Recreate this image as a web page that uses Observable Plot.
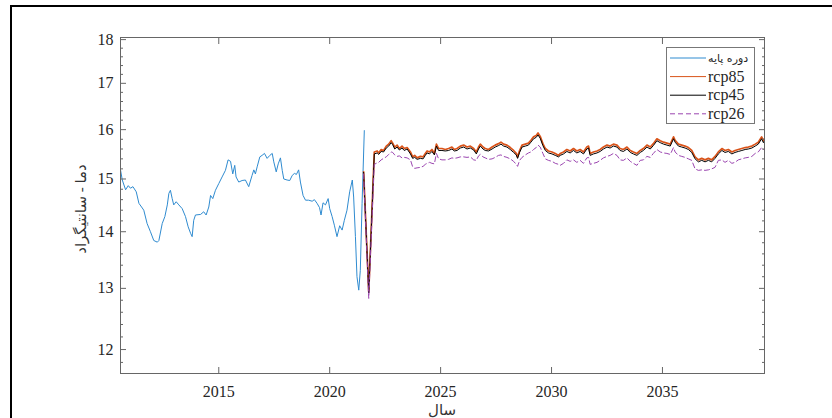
<!DOCTYPE html>
<html>
<head>
<meta charset="utf-8">
<script src="https://cdn.jsdelivr.net/npm/d3@7"></script>
<script src="https://cdn.jsdelivr.net/npm/@observablehq/plot@0.6"></script>
<style>
  body { margin: 0; background: #fff; }
  #wrap { position: relative; width: 832px; height: 418px; overflow: hidden; background: #fff; }
  #chart { position: absolute; left: 0; top: 0; }
  #chart svg, #chart svg text { font-family: "Liberation Serif", "DejaVu Serif", serif !important; }
  #border { position: absolute; left: 10px; top: 5px; width: 900px; height: 600px; border: 2px solid #000; box-sizing: border-box; pointer-events: none; }
  .lbl { position: absolute; font-family: "Liberation Serif", "DejaVu Sans", serif; font-size: 15px; color: #333; white-space: nowrap; }
  #ylab { left: 81px; top: 209px; transform: translate(-50%, -50%) rotate(-90deg); }
  #xlab { left: 442px; top: 410px; transform: translate(-50%, -50%); }
  #legend { position: absolute; left: 666px; top: 47px; }
</style>
</head>
<body>
<div id="wrap">
  <div id="chart"></div>
  <div id="border"></div>
  <div id="ylab" class="lbl">دما - سانتیگراد</div>
  <div id="xlab" class="lbl">سال</div>
  <svg id="legend" width="90" height="78"></svg>
</div>
<script>
// ---------- data ----------
const xTicks = [2015, 2020, 2025, 2030, 2035];
const yTicks = [12, 13, 14, 15, 16, 17, 18];
const yMinorTicks = [11.8, 12.2, 12.4, 12.6, 12.8, 13.2, 13.4, 13.6, 13.8, 14.2, 14.4, 14.6, 14.8,
  15.2, 15.4, 15.6, 15.8, 16.2, 16.4, 16.6, 16.8, 17.2, 17.4, 17.6, 17.8];

const seriesNames = ["دوره پایه", "rcp85", "rcp45", "rcp26"];

const baseYears = [2010.57, 2010.65, 2010.80, 2010.92, 2011.02, 2011.13, 2011.28, 2011.40, 2011.52, 2011.62,
  2011.77, 2011.92, 2012.07, 2012.23, 2012.30, 2012.45, 2012.57, 2012.68, 2012.75, 2012.82,
  2012.90, 2012.97, 2013.08, 2013.20, 2013.35, 2013.50, 2013.62, 2013.73, 2013.80, 2013.87,
  2013.95, 2014.18, 2014.32, 2014.43, 2014.55, 2014.63, 2014.73, 2014.85, 2015.00, 2015.15,
  2015.30, 2015.42, 2015.53, 2015.63, 2015.72, 2015.78, 2015.90, 2016.05, 2016.20, 2016.35,
  2016.50, 2016.58, 2016.65, 2016.73, 2016.85, 2016.95, 2017.06, 2017.18, 2017.30, 2017.41,
  2017.48, 2017.59, 2017.68, 2017.78, 2017.86, 2017.93, 2018.08, 2018.20, 2018.31, 2018.41,
  2018.50, 2018.60, 2018.68, 2018.80, 2018.91, 2019.05, 2019.21, 2019.31, 2019.43, 2019.54,
  2019.61, 2019.70, 2019.81, 2019.93, 2020.00, 2020.11, 2020.21, 2020.33, 2020.45, 2020.56,
  2020.66, 2020.78, 2020.90, 2021.02, 2021.08, 2021.16, 2021.23, 2021.31, 2021.38, 2021.46,
  2021.56];
const baseTemp = [15.18, 14.98, 14.79, 14.87, 14.82, 14.85, 14.75, 14.53, 14.46, 14.40,
  14.15, 14.00, 13.84, 13.81, 13.84, 14.15, 14.28, 14.50, 14.72, 14.78,
  14.62, 14.50, 14.56, 14.50, 14.43, 14.28, 14.09, 13.97, 13.91, 14.21,
  14.31, 14.32, 14.37, 14.31, 14.46, 14.68, 14.62, 14.78, 14.91, 15.04,
  15.17, 15.38, 15.35, 15.10, 15.27, 15.04, 14.94, 14.97, 14.98, 14.85,
  15.07, 15.18, 15.10, 15.24, 15.44, 15.47, 15.51, 15.41, 15.47, 15.51,
  15.34, 15.14, 15.30, 15.42, 15.17, 15.00, 14.98, 14.97, 15.07, 15.11,
  15.09, 15.18, 14.94, 14.68, 14.59, 14.59, 14.57, 14.60, 14.53, 14.45,
  14.31, 14.54, 14.50, 14.62, 14.43, 14.28, 14.12, 13.91, 14.11, 14.03,
  14.21, 14.40, 14.75, 14.98, 14.65, 13.91, 13.20, 12.97, 13.31, 14.53,
  15.98];

const projYears = [2021.53, 2021.76, 2022.01, 2022.14, 2022.21, 2022.32, 2022.43, 2022.55, 2022.66, 2022.77,
  2022.84, 2022.93, 2023.04, 2023.14, 2023.26, 2023.36, 2023.49, 2023.64, 2023.74, 2023.83,
  2023.94, 2024.09, 2024.21, 2024.31, 2024.39, 2024.50, 2024.61, 2024.72, 2024.81, 2024.91,
  2025.06, 2025.21, 2025.36, 2025.51, 2025.62, 2025.74, 2025.89, 2026.04, 2026.19, 2026.34,
  2026.49, 2026.61, 2026.71, 2026.79, 2026.91, 2027.01, 2027.16, 2027.32, 2027.46, 2027.61,
  2027.72, 2027.84, 2027.99, 2028.14, 2028.29, 2028.41, 2028.47, 2028.56, 2028.67, 2028.82,
  2028.96, 2029.07, 2029.19, 2029.31, 2029.39, 2029.49, 2029.61, 2029.72, 2029.86, 2030.02,
  2030.17, 2030.32, 2030.39, 2030.54, 2030.69, 2030.84, 2030.99, 2031.14, 2031.29, 2031.44,
  2031.59, 2031.67, 2031.74, 2031.89, 2032.05, 2032.19, 2032.34, 2032.50, 2032.64, 2032.79,
  2032.95, 2033.09, 2033.24, 2033.40, 2033.55, 2033.69, 2033.85, 2034.00, 2034.14, 2034.30,
  2034.45, 2034.59, 2034.75, 2034.90, 2035.05, 2035.20, 2035.35, 2035.50, 2035.57, 2035.72,
  2035.87, 2036.02, 2036.17, 2036.32, 2036.47, 2036.62, 2036.77, 2036.92, 2037.07, 2037.22,
  2037.37, 2037.52, 2037.68, 2037.82, 2037.97, 2038.13, 2038.27, 2038.42, 2038.58, 2038.73,
  2038.87, 2039.03, 2039.18, 2039.32, 2039.47, 2039.55, 2039.60];
const rcp85 = [15.14, 12.94, 15.54, 15.56, 15.52, 15.59, 15.57, 15.66, 15.70, 15.77,
  15.72, 15.64, 15.68, 15.61, 15.66, 15.61, 15.63, 15.54, 15.44, 15.47,
  15.42, 15.45, 15.44, 15.51, 15.56, 15.54, 15.59, 15.51, 15.70, 15.61,
  15.61, 15.59, 15.61, 15.64, 15.59, 15.61, 15.66, 15.68, 15.64, 15.66,
  15.61, 15.54, 15.64, 15.70, 15.64, 15.61, 15.59, 15.64, 15.68, 15.71,
  15.74, 15.70, 15.68, 15.63, 15.57, 15.51, 15.44, 15.57, 15.68, 15.70,
  15.72, 15.78, 15.85, 15.88, 15.93, 15.86, 15.71, 15.61, 15.56, 15.54,
  15.51, 15.47, 15.51, 15.54, 15.59, 15.56, 15.61, 15.56, 15.59, 15.54,
  15.64, 15.66, 15.51, 15.54, 15.56, 15.59, 15.64, 15.68, 15.66, 15.70,
  15.68, 15.61, 15.59, 15.64, 15.57, 15.54, 15.51, 15.57, 15.61, 15.68,
  15.64, 15.71, 15.81, 15.77, 15.74, 15.72, 15.70, 15.85, 15.78, 15.70,
  15.68, 15.66, 15.63, 15.57, 15.44, 15.38, 15.41, 15.38, 15.41, 15.38,
  15.45, 15.54, 15.61, 15.57, 15.59, 15.54, 15.57, 15.59, 15.61, 15.63,
  15.64, 15.66, 15.70, 15.74, 15.85, 15.77, 15.81];
const rcp45 = [15.13, 12.92, 15.50, 15.52, 15.49, 15.55, 15.54, 15.62, 15.66, 15.73,
  15.69, 15.60, 15.64, 15.58, 15.62, 15.57, 15.60, 15.50, 15.41, 15.43,
  15.39, 15.41, 15.40, 15.47, 15.52, 15.50, 15.55, 15.48, 15.66, 15.57,
  15.57, 15.56, 15.57, 15.60, 15.56, 15.57, 15.62, 15.64, 15.60, 15.62,
  15.58, 15.50, 15.60, 15.66, 15.60, 15.57, 15.56, 15.60, 15.64, 15.67,
  15.70, 15.66, 15.64, 15.59, 15.53, 15.48, 15.41, 15.53, 15.64, 15.66,
  15.68, 15.74, 15.81, 15.84, 15.89, 15.82, 15.67, 15.57, 15.52, 15.50,
  15.47, 15.44, 15.47, 15.50, 15.55, 15.52, 15.57, 15.52, 15.55, 15.50,
  15.60, 15.62, 15.47, 15.50, 15.52, 15.55, 15.60, 15.64, 15.62, 15.66,
  15.64, 15.57, 15.55, 15.60, 15.53, 15.50, 15.47, 15.53, 15.57, 15.64,
  15.60, 15.67, 15.77, 15.73, 15.70, 15.68, 15.66, 15.81, 15.74, 15.66,
  15.64, 15.62, 15.59, 15.53, 15.40, 15.34, 15.37, 15.34, 15.37, 15.34,
  15.41, 15.50, 15.57, 15.53, 15.55, 15.50, 15.53, 15.55, 15.57, 15.59,
  15.60, 15.62, 15.66, 15.70, 15.81, 15.73, 15.77];
const rcp26 = [15.10, 12.83, 15.29, 15.32, 15.33, 15.38, 15.41, 15.44, 15.49, 15.54,
  15.53, 15.48, 15.45, 15.46, 15.42, 15.43, 15.42, 15.38, 15.24, 15.21,
  15.22, 15.23, 15.25, 15.29, 15.31, 15.33, 15.31, 15.30, 15.51, 15.40,
  15.38, 15.38, 15.39, 15.42, 15.41, 15.42, 15.44, 15.44, 15.43, 15.44,
  15.38, 15.37, 15.46, 15.49, 15.44, 15.42, 15.39, 15.40, 15.43, 15.47,
  15.48, 15.45, 15.43, 15.40, 15.35, 15.29, 15.25, 15.37, 15.43, 15.48,
  15.52, 15.54, 15.59, 15.63, 15.68, 15.64, 15.51, 15.40, 15.37, 15.35,
  15.31, 15.29, 15.27, 15.31, 15.38, 15.35, 15.38, 15.33, 15.37, 15.31,
  15.42, 15.43, 15.29, 15.31, 15.33, 15.37, 15.42, 15.45, 15.47, 15.51,
  15.47, 15.38, 15.37, 15.42, 15.35, 15.31, 15.27, 15.37, 15.38, 15.45,
  15.43, 15.51, 15.59, 15.54, 15.52, 15.51, 15.49, 15.63, 15.54, 15.47,
  15.45, 15.43, 15.40, 15.37, 15.20, 15.17, 15.18, 15.17, 15.18, 15.20,
  15.23, 15.37, 15.38, 15.33, 15.37, 15.31, 15.33, 15.38, 15.40, 15.42,
  15.43, 15.45, 15.51, 15.54, 15.63, 15.59, 15.59];

// ---------- style ----------
const colors = ["#2f8bd0", "#D95319", "#000000", "#9b45b0"];
const widths = [1, 1.7, 1, 1];
const dashes = [null, null, null, "5,3"];
const axisColor = "#666";
const textColor = "#262626";
const serif = "Liberation Serif, DejaVu Serif, serif";

// ---------- tables ----------
const nb = Math.min(baseYears.length, baseTemp.length);
const baseRows = d3.range(nb).map(i => ({year: baseYears[i], t: baseTemp[i]}));
const np = Math.min(projYears.length, rcp85.length, rcp45.length, rcp26.length);
const projRows = d3.range(np).map(i => ({year: projYears[i], rcp85: rcp85[i], rcp45: rcp45[i], rcp26: rcp26[i]}));

const chart = Plot.plot({
  width: 832,
  height: 418,
  marginLeft: 120,
  marginRight: 68,
  marginTop: 37,
  marginBottom: 45,
  style: {fontFamily: serif, fontSize: "16px", color: textColor, background: "transparent", overflow: "visible"},
  x: {domain: [2010.57, 2039.6]},
  y: {type: "log", domain: [11.63, 18.05]},
  marks: [
    Plot.line(baseRows, {x: "year", y: "t", stroke: colors[0], strokeWidth: widths[0], clip: true}),
    Plot.line(projRows, {x: "year", y: "rcp85", stroke: colors[1], strokeWidth: widths[1], clip: true}),
    Plot.line(projRows, {x: "year", y: "rcp45", stroke: colors[2], strokeWidth: widths[2], clip: true}),
    Plot.line(projRows, {x: "year", y: "rcp26", stroke: colors[3], strokeWidth: widths[3], strokeDasharray: dashes[3], clip: true}),
    Plot.axisX({anchor: "bottom", ticks: xTicks, tickSize: -6, tickPadding: 18, tickFormat: d => String(d), stroke: axisColor, fill: textColor, label: null}),
    Plot.axisX({anchor: "top", ticks: xTicks, tickSize: -6, text: null, stroke: axisColor, label: null}),
    Plot.axisY({anchor: "left", ticks: yTicks, tickSize: -6, tickPadding: 13, tickFormat: d => String(d), stroke: axisColor, fill: textColor, label: null}),
    Plot.axisY({anchor: "right", ticks: yTicks, tickSize: -6, text: null, stroke: axisColor, label: null}),
    Plot.axisY({anchor: "left", ticks: yMinorTicks, tickSize: -3, text: null, stroke: axisColor, label: null}),
    Plot.axisY({anchor: "right", ticks: yMinorTicks, tickSize: -3, text: null, stroke: axisColor, label: null}),
    Plot.frame({stroke: axisColor})
  ]
});
document.getElementById("chart").appendChild(chart);

// ---------- legend (inside the axes, as in the original) ----------
const leg = d3.select("#legend");
leg.append("rect").attr("x", 0.5).attr("y", 0.5).attr("width", 88).attr("height", 76)
  .attr("fill", "#fff").attr("stroke", "#777").attr("stroke-width", 1);
seriesNames.forEach((name, i) => {
  const cy = 11 + i * 18.6;
  leg.append("line").attr("x1", 4).attr("x2", 40).attr("y1", cy).attr("y2", cy)
    .attr("stroke", colors[i]).attr("stroke-width", 1)
    .attr("stroke-dasharray", dashes[i]);
  leg.append("text").attr("x", 42).attr("y", cy).attr("dy", "0.33em")
    .style("font-family", i === 0 ? "DejaVu Sans, sans-serif" : serif)
    .attr("font-size", i === 0 ? 11 : 16)
    .attr("fill", textColor)
    .text(name);
});
</script>
</body>
</html>
